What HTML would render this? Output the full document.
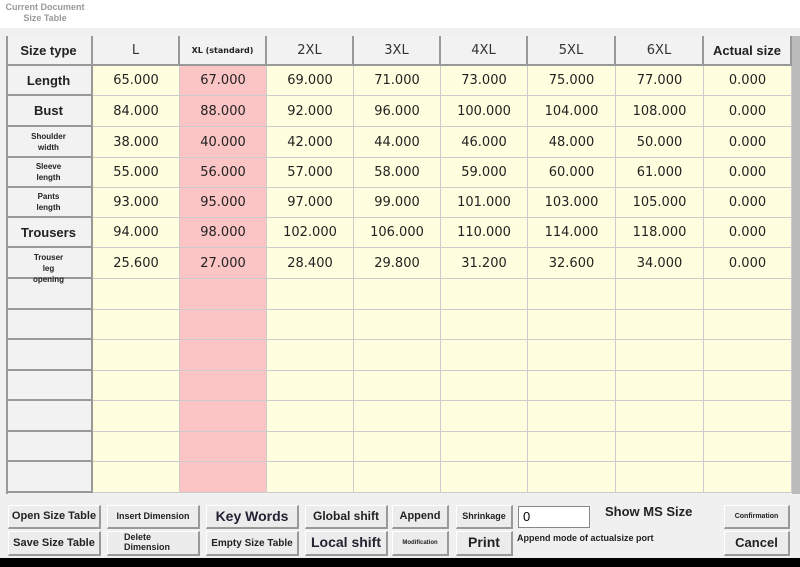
<!DOCTYPE html><html><head><style>
body{margin:0;width:800px;height:567px;background:#f0f0f0;position:relative;overflow:hidden;font-family:"DejaVu Sans","Liberation Sans",sans-serif}
.c{position:absolute;box-sizing:border-box;display:flex;align-items:center;justify-content:center;text-align:center;font-size:13px;color:#222;border-right:1px solid #ccc;border-bottom:1px solid #ccc}
.h{background:#f2f2f2;border-right:2px solid #999;border-bottom:2px solid #999}
.b{font-weight:bold;font-family:"Liberation Sans",sans-serif}
.btn{position:absolute;box-sizing:border-box;background:#ececec;border:1px solid #fff;border-right:2px solid #999;border-bottom:2px solid #999;display:flex;align-items:center;justify-content:center;font-weight:bold;font-family:"Liberation Sans",sans-serif;color:#222;text-align:center;line-height:1.1}
</style></head><body>
<div style="position:absolute;left:0;top:0;width:800px;height:28px;background:#fff"></div>
<div style="position:absolute;left:5px;top:2px;font:bold 9px 'Liberation Sans',sans-serif;color:#999;text-align:center;width:80px;line-height:11px">Current Document<br>Size Table</div>
<div style="position:absolute;left:792px;top:36px;width:8px;height:458px;background:#bbb"></div>
<div id="t"></div>
<div style="position:absolute;left:6px;top:36px;width:2px;height:458px;background:#999"></div>
<div style="position:absolute;left:0;top:558px;width:800px;height:9px;background:#000"></div>
<div class="btn" style="left:8px;top:505px;width:93px;height:24px;font-size:11px">Open Size Table</div>
<div class="btn" style="left:8px;top:531px;width:93px;height:25px;font-size:11px">Save Size Table</div>
<div class="btn" style="left:107px;top:505px;width:93px;height:24px;font-size:9px">Insert Dimension</div>
<div class="btn" style="left:107px;top:531px;width:93px;height:25px;font-size:9px;justify-content:flex-start;padding-left:16px;text-align:left">Delete<br>Dimension</div>
<div class="btn" style="left:206px;top:505px;width:93px;height:24px;font-size:14px;color:#223">Key Words</div>
<div class="btn" style="left:206px;top:531px;width:93px;height:25px;font-size:10px">Empty Size Table</div>
<div class="btn" style="left:305px;top:505px;width:83px;height:24px;font-size:12px">Global shift</div>
<div class="btn" style="left:305px;top:531px;width:83px;height:25px;font-size:14px;color:#223">Local shift</div>
<div class="btn" style="left:392px;top:505px;width:57px;height:24px;font-size:11px">Append</div>
<div class="btn" style="left:392px;top:531px;width:57px;height:25px;font-size:6px">Modification</div>
<div class="btn" style="left:456px;top:505px;width:57px;height:24px;font-size:9px">Shrinkage</div>
<div class="btn" style="left:456px;top:531px;width:57px;height:25px;font-size:14px">Print</div>
<div style="position:absolute;left:518px;top:506px;width:72px;height:22px;background:#fff;border:1px solid #888;box-sizing:border-box;font:13px 'Liberation Sans',sans-serif;padding:2px 4px">0</div>
<div style="position:absolute;left:605px;top:504px;font:bold 13px 'Liberation Sans',sans-serif;color:#222">Show MS Size</div>
<div style="position:absolute;left:517px;top:533px;font:bold 9px 'Liberation Sans',sans-serif;color:#222">Append mode of actualsize port</div>
<div class="btn" style="left:724px;top:505px;width:66px;height:24px;font-size:7px">Confirmation</div>
<div class="btn" style="left:724px;top:531px;width:66px;height:25px;font-size:13px">Cancel</div>
<script>
var xs=[6,93,180,267,354,441,528,616,704,792];
var ys=[36,66,96,127,158,188,218,248,279,310,340,371,401,432,462,493];
var hd=["Size type","L","XL (standard)","2XL","3XL","4XL","5XL","6XL","Actual size"];
var rn=["Length","Bust","Shoulder<br>width","Sleeve<br>length","Pants<br>length","Trousers","Trouser<br>leg<br>opening"];
var rows=[[65,67,69,71,73,75,77],[84,88,92,96,100,104,108],[38,40,42,44,46,48,50],[55,56,57,58,59,60,61],[93,95,97,99,101,103,105],[94,98,102,106,110,114,118],[25.6,27,28.4,29.8,31.2,32.6,34]];
var h="";
for(var r=0;r<15;r++)for(var c=0;c<9;c++){
 var l=xs[c],t=ys[r],w=xs[c+1]-l,hh=ys[r+1]-t,cls="c",st="",tx="";
 if(r==0){cls+=" h";tx=hd[c];if(c==0||c==8){cls+=" b";st="font-size:13px;"}else if(c==2)st="font-size:8px;font-weight:bold;";else st="font-size:13px;color:#333;"}
 else if(c==0){cls+=" h b";tx=r<=7?rn[r-1]:"";var sm=(r==3||r==4||r==5||r==7);st=sm?"font-size:8px;line-height:11px;":"font-size:13px;";if(r==7)st+="align-items:flex-start;padding-top:4px;overflow:visible;z-index:5;background:transparent;";}
 else{st="background:"+(c==2?"#fcc5c5":"#ffffe0")+";";if(r<=7)tx=c==8?"0.000":rows[r-1][c-1].toFixed(3);}
 if(r==7&&c==0){tx='<div>'+tx+'</div>';h+='<div class="c h" style="left:'+l+'px;top:'+t+'px;width:'+w+'px;height:'+hh+'px"></div>';}
 h+='<div class="'+cls+'" style="left:'+l+'px;top:'+t+'px;width:'+w+'px;height:'+hh+'px;'+st+'">'+tx+'</div>';
}
document.getElementById("t").innerHTML=h;
</script>
</body></html>
